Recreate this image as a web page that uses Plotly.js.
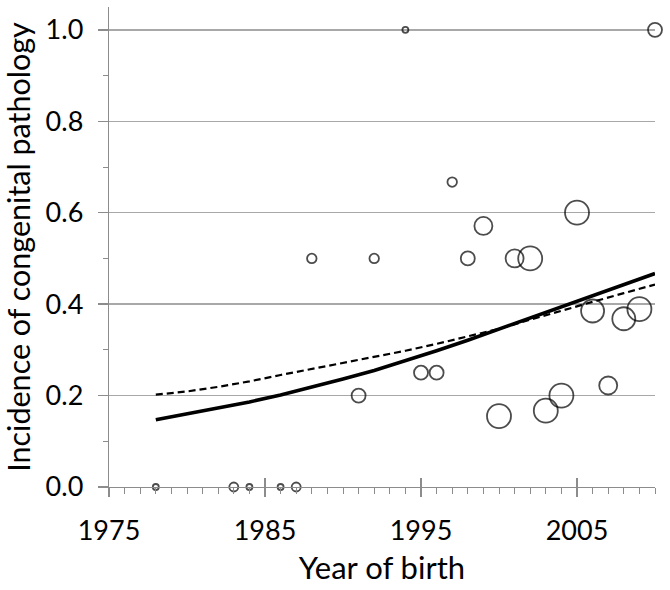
<!DOCTYPE html>
<html>
<head>
<meta charset="utf-8">
<script src="https://cdn.plot.ly/plotly-3.0.1.min.js"></script>
<style>html,body{margin:0;padding:0;background:#fff;}#chart{width:670px;height:590px;}</style>
</head>
<body>
<div id="chart"></div>
<script>
// Observed incidence per birth year (bubble size ~ number of cases)
const years = [1978,1983,1984,1986,1987,1988,1991,1992,1994,1995,1996,1997,1998,1999,2000,2001,2002,2003,2004,2005,2006,2007,2008,2009,2010];
const incidence = [0,0,0,0,0,0.5,0.2,0.5,1.0,0.25,0.25,0.667,0.5,0.571,0.155,0.5,0.5,0.167,0.2,0.6,0.385,0.222,0.368,0.389,1.0];
const bubbleSize = [6,9,6,6,9,9.5,14,9.5,6,14,14,9.5,14,18,24,18,24,24,24,24,23,18,23,24,14];

// Fitted curves
const fitYears = [1978,1980,1982,1984,1986,1988,1990,1992,1994,1996,1998,2000,2002,2004,2006,2008,2010];
const fitSolid = [0.147,0.160,0.172,0.186,0.201,0.218,0.236,0.255,0.276,0.298,0.321,0.345,0.369,0.393,0.418,0.442,0.467];
const fitDashed = [0.202,0.209,0.219,0.231,0.245,0.258,0.272,0.285,0.298,0.313,0.329,0.346,0.366,0.386,0.405,0.424,0.443];

const xTickVals = [1975,1985,1995,2005];
const yTickVals = [0.0,0.2,0.4,0.6,0.8,1.0];
const yTickText = ['0.0','0.2','0.4','0.6','0.8','1.0'];

const FONT = 'Lato, "Open Sans", sans-serif';

const traces = [
  {x: fitYears, y: fitDashed, mode: 'lines', type: 'scatter', line: {color: '#000', width: 2.2, dash: '7px,4px'}, hoverinfo: 'skip', cliponaxis: false},
  {x: fitYears, y: fitSolid, mode: 'lines', type: 'scatter', line: {color: '#000', width: 3.6}, hoverinfo: 'skip', cliponaxis: false},
  {x: years, y: incidence, mode: 'markers', type: 'scatter', cliponaxis: false,
   marker: {symbol: 'circle-open', size: bubbleSize, color: '#000', line: {width: 1.8, color: '#000'}}},
  {x: [1975], y: [0], xaxis: 'x2', mode: 'markers', marker: {opacity: 0}, hoverinfo: 'skip'}
];

const layout = {
  width: 670, height: 590,
  margin: {l: 109, r: 15, t: 6.5, b: 102.5},
  paper_bgcolor: '#fff', plot_bgcolor: '#fff',
  showlegend: false,
  font: {family: FONT, color: '#000'},
  xaxis: {
    range: [1975, 2010], tickvals: xTickVals, ticktext: xTickVals.map(String),
    showgrid: false, zeroline: false, showline: true, linecolor: '#8c8c8c', linewidth: 1.3,
    ticks: 'outside', ticklen: 9, tickwidth: 1.3, tickcolor: '#8c8c8c',
    minor: {dtick: 1, tick0: 1975, ticks: 'outside', ticklen: 6, tickwidth: 1, tickcolor: '#8c8c8c', showgrid: false},
    tickfont: {size: 27, family: FONT, color: '#000'}, ticklabelstandoff: 10,
    title: {text: 'Year of birth', font: {size: 31, family: FONT, color: '#000'}, standoff: 12}
  },
  xaxis2: {
    overlaying: 'x', range: [1975, 2010], tickvals: xTickVals, showticklabels: false,
    showgrid: false, zeroline: false, showline: false,
    ticks: 'inside', ticklen: 9, tickwidth: 1.3, tickcolor: '#8c8c8c', side: 'bottom', anchor: 'y'
  },
  yaxis: {
    range: [0, 1.05], tickvals: yTickVals, ticktext: yTickText,
    showgrid: true, gridcolor: '#a8a8a8', gridwidth: 1.5,
    zeroline: false, showline: true, linecolor: '#8c8c8c', linewidth: 1.3,
    ticks: 'outside', ticklen: 10, tickwidth: 1.3, tickcolor: '#8c8c8c',
    minor: {dtick: 0.1, tick0: 0, ticks: 'outside', ticklen: 5, tickwidth: 1, tickcolor: '#8c8c8c', showgrid: false},
    tickfont: {size: 27, family: FONT, color: '#000'}, ticklabelstandoff: 9,
    title: {text: 'Incidence of congenital pathology', font: {size: 30.5, family: FONT, color: '#000'}, standoff: 8}
  }
};

Plotly.newPlot('chart', traces, layout, {displayModeBar: false, staticPlot: true});
</script>
</body>
</html>
